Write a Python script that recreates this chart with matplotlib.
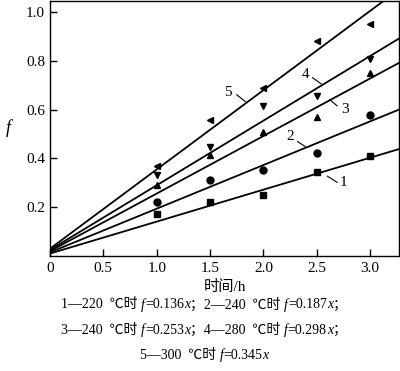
import matplotlib.pyplot as plt
import numpy as np

plt.rcParams['font.family'] = ['Liberation Serif', 'Noto Sans CJK SC', 'DejaVu Sans']

# measured points, time in h
hours = [1.0, 1.5, 2.0, 2.5, 3.0]
f_220 = [0.174, 0.223, 0.250, 0.343, 0.412]
f_240a = [0.222, 0.311, 0.352, 0.424, 0.580]
f_240b = [0.293, 0.416, 0.509, 0.570, 0.752]
f_280 = [0.331, 0.446, 0.616, 0.657, 0.807]
f_300 = [0.367, 0.559, 0.689, 0.883, 0.950]

# fitted lines as drawn (slope, intercept)
slopes = [0.131, 0.179, 0.236, 0.265, 0.325]
intercepts = [0.010, 0.015, 0.020, 0.025, 0.030]

series = [f_220, f_240a, f_240b, f_280, f_300]
markers = ['s', 'o', '^', 'v', '<']
line_names = ['1', '2', '3', '4', '5']

# caption pieces: (text, italic)
caption = [
    [('1—220  ℃时 ', False), ('f', True), ('=0.136', False), ('x', True),
     ('；2—240  ℃时 ', False), ('f', True), ('=0.187', False), ('x', True), ('；', False)],
    [('3—240  ℃时 ', False), ('f', True), ('=0.253', False), ('x', True),
     ('；4—280  ℃时 ', False), ('f', True), ('=0.298', False), ('x', True), ('；', False)],
    [('5—300  ℃时 ', False), ('f', True), ('=0.345', False), ('x', True)],
]

fig = plt.figure(figsize=(4.0, 3.71), dpi=100)
ax = fig.add_axes([0.125, 0.31, 0.8725, 0.687])

xx = np.array([0, 3.3])
for k in range(5):
    ax.plot(xx, slopes[k] * xx + intercepts[k], color='black', lw=1.3)
    ax.plot(hours, series[k], linestyle='none', marker=markers[k],
            color='black', markersize=5)

# curve labels with little leader lines
lab_pos = [(2.75, 0.30), (2.25, 0.49), (2.76, 0.60), (2.39, 0.745), (1.67, 0.67)]
leaders = [((2.60, 0.327), (2.69, 0.302)),
           ((2.32, 0.469), (2.39, 0.449)),
           ((2.62, 0.641), (2.69, 0.616)),
           ((2.46, 0.731), (2.54, 0.706)),
           ((1.75, 0.661), (1.83, 0.633))]
for k in range(5):
    ax.text(lab_pos[k][0], lab_pos[k][1], line_names[k], fontsize=11,
            ha='center', va='center')
    (x0, y0), (x1, y1) = leaders[k]
    ax.plot([x0, x1], [y0, y1], color='black', lw=0.8)

ax.set_xlim(0, 3.27)
ax.set_ylim(0, 1.045)
ax.set_xticks([0, 0.5, 1.0, 1.5, 2.0, 2.5, 3.0])
ax.set_xticklabels(['0', '0.5', '1.0', '1.5', '2.0', '2.5', '3.0'])
ax.set_yticks([0.2, 0.4, 0.6, 0.8, 1.0])
ax.tick_params(direction='in', length=5, width=1, labelsize=11, top=False, right=False)
ax.tick_params(axis='x', pad=4)
for sp in ax.spines.values():
    sp.set_linewidth(1.0)

ax.set_xlabel('时间/h', fontsize=11, labelpad=4)
ax.text(-0.12, 0.5, 'f', fontsize=13, style='italic', transform=ax.transAxes,
        ha='center', va='center')

# lay out caption pieces one after another, then centre each line
renderer = fig.canvas.get_renderer()
cap_y = [0.178, 0.110, 0.043]
for pieces, y in zip(caption, cap_y):
    texts = []
    x = 0.0
    for s, it in pieces:
        t = fig.text(x, y, s, fontsize=10, style='italic' if it else 'normal',
                     va='center', ha='left')
        w = t.get_window_extent(renderer).width / fig.bbox.width
        texts.append((t, x))
        x += w
    shift = 0.51 - x / 2
    for t, x0 in texts:
        t.set_x(x0 + shift)

fig.savefig('out.png', dpi=100)
